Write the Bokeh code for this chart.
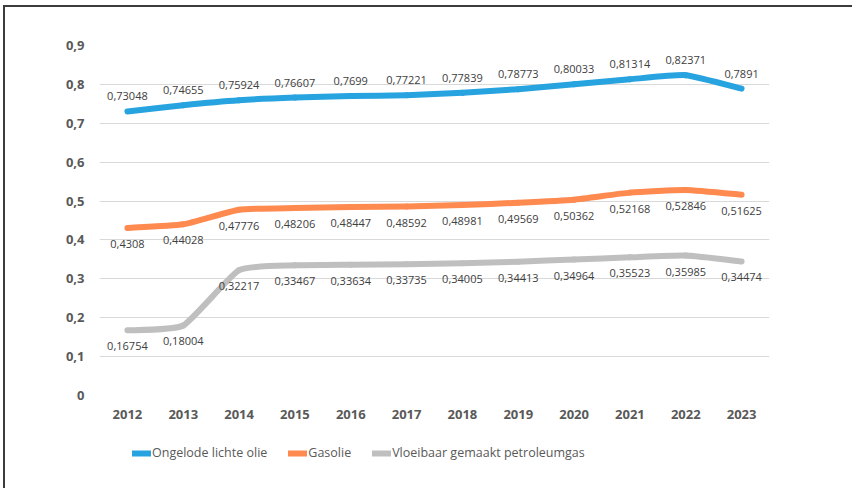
from bokeh.plotting import figure
from bokeh.layouts import column
from bokeh.models import Range1d, FixedTicker, Legend, LegendItem, ColumnDataSource
from bokeh.core.properties import value
from bokeh.embed import file_html
from bokeh.resources import INLINE

years = ["2012", "2013", "2014", "2015", "2016", "2017", "2018", "2019", "2020", "2021", "2022", "2023"]
ongelode = [0.73048, 0.74655, 0.75924, 0.76607, 0.7699, 0.77221, 0.77839, 0.78773, 0.80033, 0.81314, 0.82371, 0.7891]
gasolie = [0.4308, 0.44028, 0.47776, 0.48206, 0.48447, 0.48592, 0.48981, 0.49569, 0.50362, 0.52168, 0.52846, 0.51625]
lpg = [0.16754, 0.18004, 0.32217, 0.33467, 0.33634, 0.33735, 0.34005, 0.34413, 0.34964, 0.35523, 0.35985, 0.34474]
y_ticks = [0, 0.1, 0.2, 0.3, 0.4, 0.5, 0.6, 0.7, 0.8, 0.9]

series = [
    ("Ongelode lichte olie", ongelode, "#27a3e0", -15),
    ("Gasolie", gasolie, "#ff8a50", 16),
    ("Vloeibaar gemaakt petroleumgas", lpg, "#bfbfbf", 16),
]

FONT = "Open Sans"
SMOOTH = 0.08

p = figure(width=847, height=423, output_backend="svg", toolbar_location=None,
           x_range=Range1d(-0.5, len(years) - 0.5), y_range=Range1d(0, 0.9),
           min_border_left=94, min_border_right=83, min_border_top=38, min_border_bottom=35)
p.outline_line_color = None
p.background_fill_color = "white"
p.border_fill_color = "white"

p.xgrid.grid_line_color = None
p.ygrid.grid_line_color = "#d9d9d9"
p.ygrid.grid_line_width = 1
p.yaxis.ticker = FixedTicker(ticks=y_ticks)
p.yaxis.major_label_overrides = {t: ("0" if t == 0 else f"{t:.1f}".replace(".", ",")) for t in y_ticks}
p.xaxis.ticker = FixedTicker(ticks=list(range(len(years))))
p.xaxis.major_label_overrides = {i: y for i, y in enumerate(years)}
for ax in (p.xaxis, p.yaxis):
    ax.axis_line_color = None
    ax.major_tick_line_color = None
    ax.minor_tick_line_color = None
    ax.major_label_text_font = FONT
    ax.major_label_text_font_style = "bold"
    ax.major_label_text_font_size = "13px"
    ax.major_label_text_color = "#595959"
p.yaxis.major_label_standoff = 9
p.xaxis.major_label_standoff = 8

# legend figure
p2 = figure(width=847, height=58, output_backend="svg", toolbar_location=None,
            x_range=Range1d(0, 1), y_range=Range1d(0, 1),
            x_axis_location=None, y_axis_location=None,
            min_border_left=0, min_border_right=0, min_border_top=0, min_border_bottom=0)
p2.outline_line_color = None
p2.grid.grid_line_color = None
p2.background_fill_color = "white"
p2.border_fill_color = "white"

items = []
xs = list(range(len(years)))
for name, vals, color, off in series:
    n = len(vals)
    x0, y0, x1, y1, cx0, cy0, cx1, cy1 = [], [], [], [], [], [], [], []
    for i in range(n - 1):
        pm = i - 1 if i > 0 else i
        pp = i + 2 if i + 2 < n else i + 1
        x0.append(xs[i]); y0.append(vals[i])
        x1.append(xs[i + 1]); y1.append(vals[i + 1])
        cx0.append(xs[i] + (xs[i + 1] - xs[pm]) * SMOOTH)
        cy0.append(vals[i] + (vals[i + 1] - vals[pm]) * SMOOTH)
        cx1.append(xs[i + 1] - (xs[pp] - xs[i]) * SMOOTH)
        cy1.append(vals[i + 1] - (vals[pp] - vals[i]) * SMOOTH)
    p.bezier(x0=x0, y0=y0, x1=x1, y1=y1, cx0=cx0, cy0=cy0, cx1=cx1, cy1=cy1,
             line_color=color, line_width=6, line_cap="round", line_join="round")
    src = ColumnDataSource(dict(x=xs, y=vals, t=[str(v).replace(".", ",") for v in vals]))
    p.text(x="x", y="y", text="t", source=src, y_offset=off, text_align="center",
           text_baseline="middle", text_font=value(FONT), text_font_size="11px",
           text_color="#404040")
    lr = p2.line(x=[-5, -4], y=[-5, -4], line_color=color, line_width=6, line_cap="round")
    items.append(LegendItem(label=name, renderers=[lr]))

legend = Legend(items=items, orientation="horizontal", location=(33, 27),
                glyph_width=19, glyph_height=16, label_height=16, label_width=0,
                label_standoff=1, spacing=21,
                padding=0, margin=0, border_line_color=None, background_fill_alpha=0,
                label_text_font=FONT, label_text_font_size="12.5px", label_text_color="#595959")
p2.add_layout(legend, "center")

layout = column(p, p2, spacing=0)
layout.styles = {"margin-left": "3px", "margin-top": "5px",
                 "border-left": "2px solid #3c3c3c", "border-top": "2px solid #3c3c3c"}
open("out.html", "w").write(file_html(layout, INLINE))
